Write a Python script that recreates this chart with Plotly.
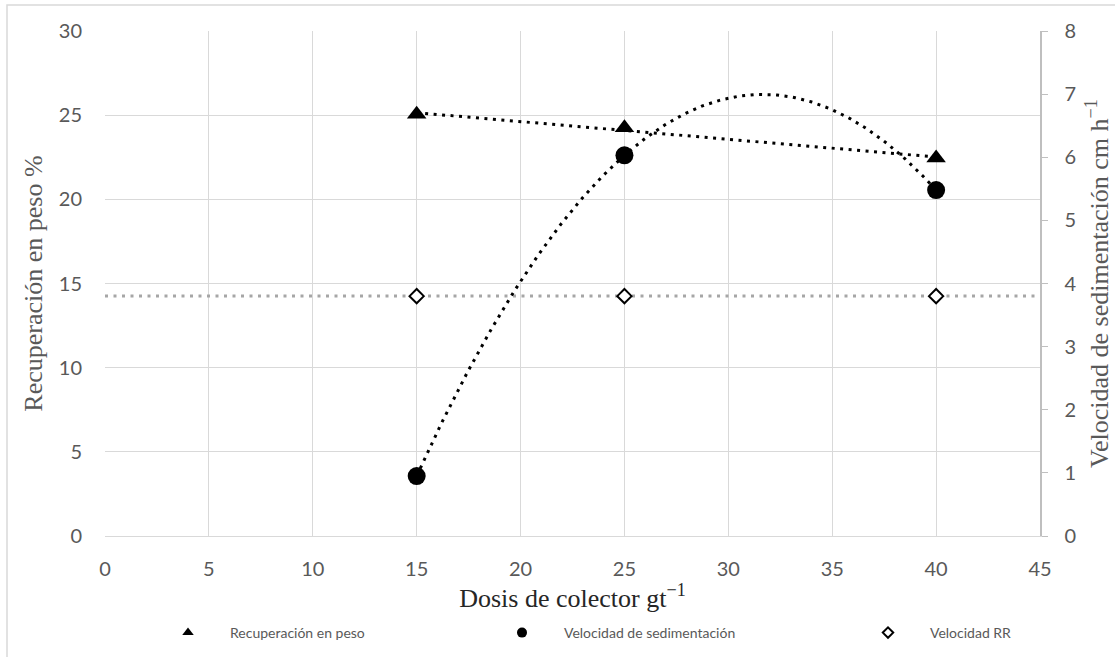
import numpy as np
import plotly.graph_objects as go

# ---- data ----
dosis = [15, 25, 40]
recuperacion = [25.05, 24.25, 22.45]        # left axis, %
vel_sed = [0.95, 6.03, 5.48]                # right axis, cm h-1
vel_rr = [3.8, 3.8, 3.8]                    # right axis
x_ticks = [0, 5, 10, 15, 20, 25, 30, 35, 40, 45]

W, H = 1115, 657
L, R, T, B = 105, 75, 31, 121

fig = go.Figure()

# trendlines (computed from data)
xs = np.linspace(min(dosis), max(dosis), 200)
p1 = np.polyfit(dosis, recuperacion, 1)
p2 = np.polyfit(dosis, vel_sed, 2)
p0 = np.polyfit(dosis, vel_rr, 0)
xr = np.linspace(0, 45, 2)

dot = "3px,5.5px"
fig.add_trace(go.Scatter(x=xr, y=np.polyval(p0, xr), mode="lines", yaxis="y2",
                         line=dict(color="#a6a6a6", width=3, dash=dot), showlegend=False, hoverinfo="skip"))
fig.add_trace(go.Scatter(x=xs, y=np.polyval(p1, xs), mode="lines",
                         line=dict(color="black", width=3, dash=dot), showlegend=False, hoverinfo="skip"))
fig.add_trace(go.Scatter(x=xs, y=np.polyval(p2, xs), mode="lines", yaxis="y2",
                         line=dict(color="black", width=3, dash=dot), showlegend=False, hoverinfo="skip"))

fig.add_trace(go.Scatter(x=dosis, y=recuperacion, mode="markers", showlegend=False,
                         marker=dict(symbol="triangle-up", size=17, color="black")))
fig.add_trace(go.Scatter(x=dosis, y=vel_sed, mode="markers", yaxis="y2", showlegend=False,
                         marker=dict(symbol="circle", size=18, color="black")))
fig.add_trace(go.Scatter(x=dosis, y=vel_rr, mode="markers", yaxis="y2", showlegend=False,
                         marker=dict(symbol="diamond", size=11, color="white", line=dict(color="black", width=2))))

# legend-only entries (smaller symbols like the reference legend)
fig.add_trace(go.Scatter(x=[None], y=[None], mode="markers", name="Recuperación en peso",
                         marker=dict(symbol="triangle-up", size=10, color="black"), legend="legend"))
fig.add_trace(go.Scatter(x=[None], y=[None], mode="markers", name="Velocidad de sedimentación", yaxis="y2",
                         marker=dict(symbol="circle", size=10, color="black"), legend="legend2"))
fig.add_trace(go.Scatter(x=[None], y=[None], mode="markers", name="Velocidad RR", yaxis="y2",
                         marker=dict(symbol="diamond", size=8, color="white", line=dict(color="black", width=2)),
                         legend="legend3"))

pw = W - L - R
ph = H - T - B
def px_x(px):
    return (px - L) / pw
def px_y(py):
    return (H - B - py) / ph

tick_font = dict(family="Lato, Open Sans, sans-serif", size=20, color="#595959")
title_font = dict(family="Liberation Serif, Times New Roman, serif", size=26, color="#595959")
leg_font = dict(family="Lato, Open Sans, sans-serif", size=14, color="#595959")

IW = 74
def leg(xc):
    return dict(x=(xc - 5 - IW / 2) / W, y=1 - 633 / H, xref="container", yref="container",
                xanchor="left", yanchor="middle", orientation="h", font=leg_font,
                itemwidth=IW, bgcolor="rgba(0,0,0,0)")

fig.update_layout(
    width=W, height=H,
    margin=dict(l=L, r=R, t=T, b=B, autoexpand=False),
    paper_bgcolor="white", plot_bgcolor="white",
    xaxis=dict(range=[0, 45], tickvals=x_ticks, showgrid=True, gridcolor="#d9d9d9", gridwidth=1,
               showline=True, linecolor="#d9d9d9", linewidth=1, zeroline=False, ticks="",
               tickfont=tick_font, ticklabelstandoff=15, automargin=False,
               title=dict(text="Dosis de colector gt<sup>−1</sup>", font=dict(family="Liberation Serif, serif", size=26, color="#262626"), standoff=8)),
    yaxis=dict(range=[0, 30], dtick=5, showgrid=True, gridcolor="#d9d9d9", gridwidth=1,
               zeroline=False, showline=False, ticks="", tickfont=tick_font, ticklabelstandoff=22,
               automargin=False,
               title=dict(text="Recuperación en peso %", font=title_font, standoff=8)),
    yaxis2=dict(range=[0, 8], dtick=1, overlaying="y", side="right", showgrid=False, zeroline=False,
                showline=True, linecolor="#bfbfbf", linewidth=1.5, ticks="outside", ticklen=6,
                tickcolor="#bfbfbf", tickfont=tick_font, tickprefix="\u00a0\u00a0\u2009",
                automargin=False,
                title=dict(text="Velocidad de sedimentación cm h<sup>−1</sup>", font=title_font, standoff=14)),
    legend=leg(188), legend2=leg(522), legend3=leg(888),
    shapes=[dict(type="rect", xref="paper", yref="paper",
                 x0=px_x(7), x1=px_x(1120), y0=px_y(670), y1=px_y(5),
                 line=dict(color="#d9d9d9", width=1.5), layer="below")],
)

fig.write_html("out.html")
